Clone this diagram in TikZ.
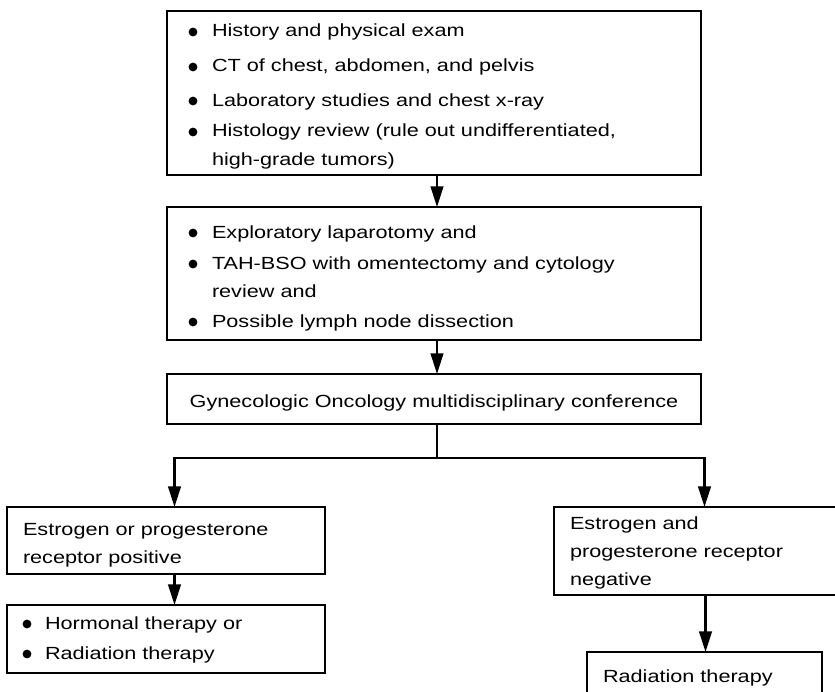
\documentclass[tikz,border=0pt]{standalone}
\usepackage{fontspec}
\setmainfont{Liberation Sans}[FakeStretch=1.23]
\usetikzlibrary{arrows.meta}
\begin{document}
\begin{tikzpicture}[x=0.75pt,y=-0.75pt,
  box/.style={draw,line width=1.7pt,rectangle,anchor=north west,inner sep=0pt,outer sep=0pt},
  txt/.style={anchor=base west,inner sep=0pt,outer sep=0pt,font=\fontsize{13.2}{15.8}\selectfont},
  arr/.style={line width=1.6pt,-{Triangle[length=15.5pt,width=9.5pt]}},
  ln/.style={line width=1.6pt},
  bul/.style={fill=black}]
\useasboundingbox (0,0) rectangle (835,692);

% boxes
\node[box,minimum width=400.5pt,minimum height=123pt] (b1) at (167,11) {};
\node[box,minimum width=400.5pt,minimum height=99.75pt] (b2) at (167,207) {};
\node[box,minimum width=400.5pt,minimum height=37.5pt] (b3) at (167,374) {};
\node[box,minimum width=238.5pt,minimum height=50.25pt] (bA) at (7,507) {};
\node[box,minimum width=238.5pt,minimum height=51pt] (bB) at (7,605) {};
\node[box,minimum width=218.25pt,minimum height=66pt] (bC) at (554,507) {};
\node[box,minimum width=176.25pt,minimum height=43.5pt] (bD) at (587,652) {};

% box 1 text
\fill[bul] (193,32) circle[radius=3.3pt];
\node[txt] (t11) at (212,37) {History and physical exam};
\fill[bul] (193,67) circle[radius=3.3pt];
\node[txt] (t12) at (212,72) {CT of chest, abdomen, and pelvis};
\fill[bul] (193,101) circle[radius=3.3pt];
\node[txt] (t13) at (212,106) {Laboratory studies and chest x-ray};
\fill[bul] (193,132) circle[radius=3.3pt];
\node[txt] (t14) at (212,137) {Histology review (rule out undifferentiated,};
\node[txt] (t15) at (212,165) {high-grade tumors)};

% box 2 text
\fill[bul] (193,233) circle[radius=3.3pt];
\node[txt] (t21) at (212,238) {Exploratory laparotomy and};
\fill[bul] (193,264) circle[radius=3.3pt];
\node[txt] (t22) at (212,269) {TAH-BSO with omentectomy and cytology};
\node[txt] (t23) at (212,297) {review and};
\fill[bul] (193,322) circle[radius=3.3pt];
\node[txt] (t24) at (212,327) {Possible lymph node dissection};

% box 3 text
\node[txt,anchor=base] (t31) at (434,407) {Gynecologic Oncology multidisciplinary conference};

% box A text
\node[txt] (tA1) at (23,535) {Estrogen or progesterone};
\node[txt] (tA2) at (23,563) {receptor positive};

% box B text
\fill[bul] (27,624) circle[radius=3.3pt];
\node[txt] (tB1) at (45,629) {Hormonal therapy or};
\fill[bul] (27,654) circle[radius=3.3pt];
\node[txt] (tB2) at (45,659) {Radiation therapy};

% box C text
\node[txt] (tC1) at (570,529) {Estrogen and};
\node[txt] (tC2) at (570,557) {progesterone receptor};
\node[txt] (tC3) at (570,585) {negative};

% box D text
\node[txt] (tD1) at (603,682) {Radiation therapy};

% connectors
\coordinate (cm) at (437,0);
\coordinate (jm) at (437,458);
\coordinate (jl) at (174.5,458);
\coordinate (jr) at (704.5,458);
\coordinate (cr) at (705.5,0);
\draw[arr] (cm |- b1.south) -- (cm |- b2.north);
\draw[arr] (cm |- b2.south) -- (cm |- b3.north);
\draw[ln] (cm |- b3.south) -- (jm);
\draw[arr] (jm) -| (jl |- bA.north);
\draw[arr] (jm) -| (jr |- bC.north);
\draw[arr] (jl |- bA.south) -- (jl |- bB.north);
\draw[arr] (cr |- bC.south) -- (cr |- bD.north);
\end{tikzpicture}
\end{document}
